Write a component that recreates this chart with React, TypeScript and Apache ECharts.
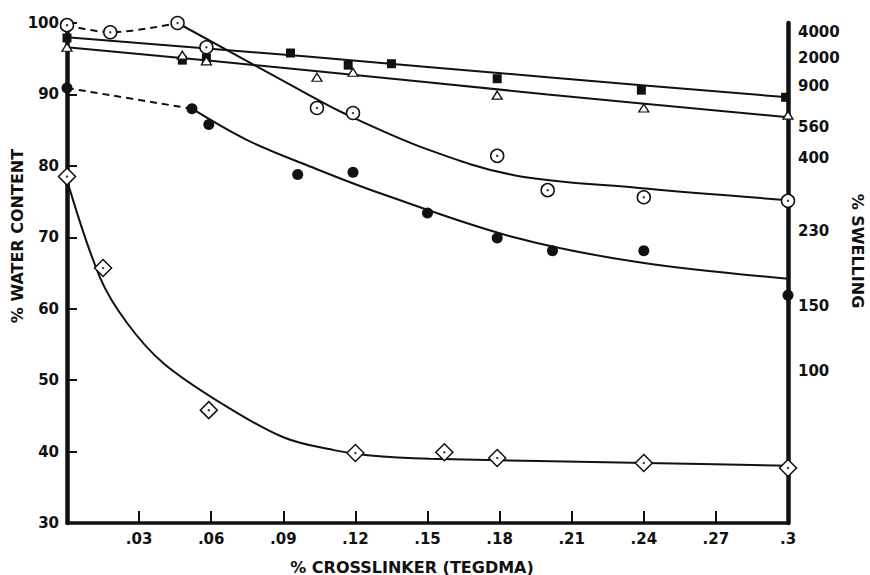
import React, { useEffect, useRef } from "react";
import * as echarts from "echarts";

// ---- data ----
// open circles with centre dot
const openCirclePts = [[0, 99.7], [0.018, 98.7], [0.046, 100.0], [0.058, 96.6], [0.104, 88.1], [0.119, 87.4], [0.179, 81.4], [0.2, 76.6], [0.24, 75.6], [0.3, 75.1]];
const openCircleDash = [[0, 99.7], [0.018, 98.7], [0.046, 100.0]];
const openCircleFit = [[0.046, 100.0], [0.097, 90.6], [0.115, 87.4], [0.15, 82.3], [0.186, 78.7], [0.238, 76.9], [0.3, 75.2]];

// filled squares
const filledSquarePts = [[0, 97.9], [0.048, 94.8], [0.058, 95.1], [0.093, 95.8], [0.117, 94.1], [0.135, 94.3], [0.179, 92.2], [0.239, 90.6], [0.299, 89.6]];
const filledSquareFit = [[0, 98.0], [0.1, 95.3], [0.2, 92.4], [0.3, 89.6]];

// open triangles
const openTrianglePts = [[0, 96.6], [0.048, 95.5], [0.058, 94.7], [0.104, 92.4], [0.119, 93.1], [0.179, 89.9], [0.24, 88.1], [0.3, 87.1]];
const openTriangleFit = [[0, 96.6], [0.1, 93.4], [0.2, 90.0], [0.3, 86.8]];

// filled circles
const filledCirclePts = [[0, 90.9], [0.052, 88.0], [0.059, 85.8], [0.096, 78.8], [0.119, 79.1], [0.15, 73.4], [0.179, 69.9], [0.202, 68.1], [0.24, 68.1], [0.3, 61.9]];
const filledCircleDash = [[0, 90.9], [0.052, 88.0]];
const filledCircleFit = [[0.052, 88.0], [0.075, 83.6], [0.102, 79.8], [0.13, 76.2], [0.186, 70.0], [0.238, 66.5], [0.3, 64.2]];

// diamonds with centre dot
const diamondPts = [[0, 78.5], [0.015, 65.7], [0.059, 45.8], [0.12, 39.8], [0.157, 39.9], [0.179, 39.1], [0.24, 38.4], [0.3, 37.7]];
const diamondFit = [[0, 78.0], [0.0137, 64.4], [0.025, 58.0], [0.04, 52.4], [0.064, 46.8], [0.09, 42.0], [0.111, 40.2], [0.125, 39.5], [0.151, 39.0], [0.241, 38.4], [0.3, 38.0]];

// right axis (% swelling) labels and where they sit on the water-content scale
const swellingLabels = ["4000", "2000", "900", "560", "400", "230", "150", "100"];
const swellingPos = [98.75, 95.1, 91.2, 85.4, 81.1, 70.9, 60.4, 51.3];

const xAxisName = "% CROSSLINKER (TEGDMA)";
const leftAxisName = "% WATER CONTENT";
const rightAxisName = "% SWELLING";

const INK = "#111";
const FONT = "'DejaVu Sans', 'Liberation Sans', Arial, sans-serif";

export default function App() {
  const ref = useRef<HTMLDivElement>(null);

  useEffect(() => {
    if (!ref.current) return;
    const chart = echarts.init(ref.current, undefined, { renderer: "svg" });

    const fitLine = (data: number[][], dashed = false) => ({
      type: "line",
      data,
      smooth: 0.35,
      showSymbol: false,
      symbol: "none",
      lineStyle: { color: INK, width: 2, type: dashed ? [7, 5] : "solid" },
      z: 2,
      silent: true,
    });
    const marks = (data: number[][], symbol: string, size: number | number[], filled: boolean, bw = 1.5) => ({
      type: "scatter",
      data,
      symbol,
      symbolSize: size,
      clip: false,
      itemStyle: {
        color: filled ? INK : "#fff",
        borderColor: INK,
        borderWidth: filled ? 0 : bw,
        opacity: 1,
      },
      z: 4,
    });
    const dots = (data: number[][]) => ({
      type: "scatter",
      data,
      symbol: "circle",
      symbolSize: 2.5,
      clip: false,
      itemStyle: { color: INK },
      z: 5,
    });

    const option: any = {
      animation: false,
      backgroundColor: "#fff",
      textStyle: { fontFamily: FONT },
      grid: { left: 67, right: 82, top: 23, bottom: 52, containLabel: false },
      xAxis: {
        type: "value",
        min: 0,
        max: 0.3,
        interval: 0.03,
        axisLine: { show: true, lineStyle: { color: INK, width: 3.5 } },
        axisTick: { show: true, inside: true, length: 12, lineStyle: { color: INK, width: 2 } },
        splitLine: { show: false },
        axisLabel: {
          color: INK,
          fontWeight: "bold",
          fontSize: 15,
          fontFamily: FONT,
          margin: 8,
          formatter: (v: number) => (v === 0 ? "" : String(Number(v.toFixed(2))).replace(/^0/, "")),
        },
      },
      yAxis: [
        {
          type: "value",
          min: 30,
          max: 100,
          interval: 10,
          position: "left",
          axisLine: { show: true, lineStyle: { color: INK, width: 4.5 } },
          axisTick: { show: true, inside: true, length: 10, lineStyle: { color: INK, width: 2 } },
          splitLine: { show: false },
          axisLabel: { color: INK, fontWeight: "bold", fontSize: 15, fontFamily: FONT, margin: 8 },
        },
        {
          type: "value",
          min: 30,
          max: 100,
          position: "right",
          axisLine: { show: true, onZero: false, lineStyle: { color: INK, width: 4.5 } },
          axisTick: { show: false },
          splitLine: { show: false },
          axisLabel: {
            color: INK,
            fontWeight: "bold",
            fontSize: 15,
            fontFamily: FONT,
            margin: 10,
            customValues: swellingPos,
            formatter: (v: number) => {
              let best = 0;
              swellingPos.forEach((p, i) => {
                if (Math.abs(p - v) < Math.abs(swellingPos[best] - v)) best = i;
              });
              return swellingLabels[best];
            },
          },
        },
      ],
      graphic: [
        {
          type: "text",
          x: 412,
          y: 567,
          style: { text: xAxisName, fill: INK, font: `bold 16px ${FONT}`, textAlign: "center", textVerticalAlign: "middle" },
        },
        {
          type: "text",
          x: 17,
          y: 236,
          rotation: Math.PI / 2,
          style: { text: leftAxisName, fill: INK, font: `bold 16px ${FONT}`, textAlign: "center", textVerticalAlign: "middle" },
        },
        {
          type: "text",
          x: 857,
          y: 251,
          rotation: -Math.PI / 2,
          style: { text: rightAxisName, fill: INK, font: `bold 16px ${FONT}`, textAlign: "center", textVerticalAlign: "middle" },
        },
      ],
      series: [
        fitLine(openCircleDash, true),
        fitLine(openCircleFit),
        fitLine(filledSquareFit),
        fitLine(openTriangleFit),
        fitLine(filledCircleDash, true),
        fitLine(filledCircleFit),
        fitLine(diamondFit),
        marks(filledSquarePts, "rect", 9, true),
        marks(openTrianglePts, "triangle", [10, 8], false, 1.3),
        marks(filledCirclePts, "circle", 11, true),
        marks(openCirclePts, "circle", 13, false),
        dots(openCirclePts),
        marks(diamondPts, "diamond", 17, false),
        dots(diamondPts),
      ],
    };

    chart.setOption(option);
    return () => chart.dispose();
  }, []);

  return <div ref={ref} style={{ position: "absolute", left: 0, top: 0, width: 870, height: 575 }} />;
}
